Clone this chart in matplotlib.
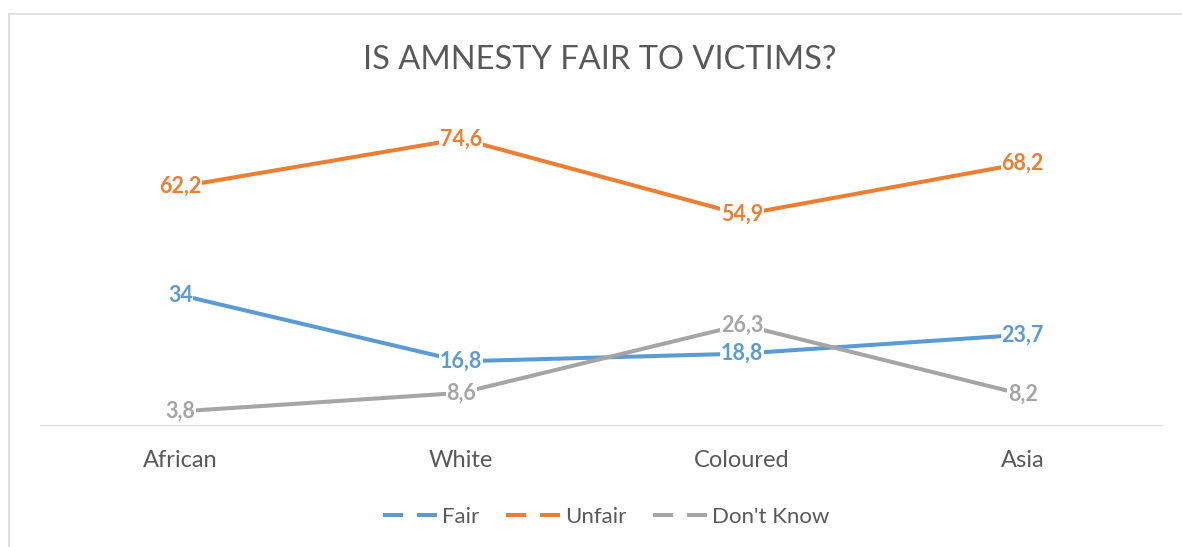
import matplotlib
matplotlib.use("Agg")
import matplotlib.pyplot as plt
from matplotlib.lines import Line2D
from matplotlib.patches import Rectangle

plt.rcParams['font.family'] = ['Lato', 'DejaVu Sans']

groups = ["African", "White", "Coloured", "Asia"]
fair = [34, 16.8, 18.8, 23.7]
unfair = [62.2, 74.6, 54.9, 68.2]
dont_know = [3.8, 8.6, 26.3, 8.2]
series_names = ["Fair", "Unfair", "Don't Know"]

colors = ["#5B9BD5", "#ED7D31", "#A5A5A5"]
text_grey = "#595959"
rule_grey = "#D9D9D9"

fig = plt.figure(figsize=(11.82, 5.47), dpi=100)
# chart frame, only the top and left edges fall inside the canvas
fig.patches.append(Rectangle((9 / 1182, -0.1), 1.2, 1.1 - 14 / 547, transform=fig.transFigure,
                             fill=False, edgecolor=rule_grey, linewidth=1.2))

ax = fig.add_axes([40 / 1182, 121 / 547, 1123 / 1182, 308 / 547])
x = list(range(len(groups)))

for vals, col in zip([fair, unfair, dont_know], colors):
    ax.plot(x, vals, color=col, linewidth=2.9, solid_capstyle='round', zorder=3)
    for xi, v in zip(x, vals):
        lbl = ("%g" % v).replace(".", ",")
        ax.text(xi, v, lbl, color=col, fontsize=15.5, fontweight='bold', ha='center', va='center',
                zorder=5, bbox=dict(facecolor='white', edgecolor='none', pad=0.5))

ax.axhline(0, color=rule_grey, linewidth=1.5, zorder=1)
ax.set_xlim(-0.5, len(groups) - 0.5)
ax.set_ylim(0, 80)
for s in ax.spines.values():
    s.set_visible(False)
ax.set_yticks([])
ax.set_xticks(x)
ax.set_xticklabels(groups, fontsize=17, color=text_grey)
ax.tick_params(axis='x', length=0, pad=17)

fig.text(600 / 1182, 1 - 60 / 547, "IS AMNESTY FAIR TO VICTIMS?", ha='center', va='center',
         fontsize=23.5, color=text_grey)

# legend keys: dash, gap, dash
handles = [Line2D([0], [0], color=c, linewidth=2.9, dashes=(5, 3.45), dash_capstyle='butt')
           for c in colors]
fig.legend(handles, series_names, loc='center', bbox_to_anchor=(606 / 1182, 1 - 517 / 547),
           ncol=3, frameon=False, fontsize=16, handlelength=2.45, handletextpad=0.2,
           columnspacing=1.2, labelcolor=text_grey)

fig.savefig("out.png", dpi=100, facecolor='white')
